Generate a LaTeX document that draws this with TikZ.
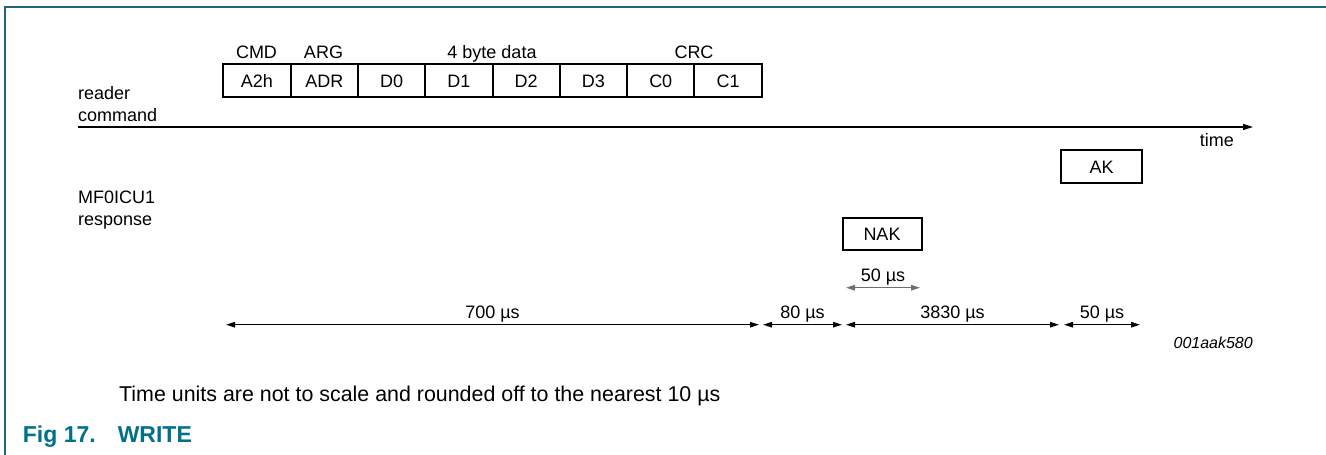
\documentclass[tikz,border=0pt]{standalone}
\usepackage{fontspec}
\setmainfont{Liberation Sans}
\usetikzlibrary{arrows.meta}
\definecolor{frameteal}{RGB}{30,100,125}
\definecolor{figteal}{RGB}{0,112,140}
\definecolor{dimgray}{RGB}{110,110,110}
\begin{document}
\begin{tikzpicture}[x=1pt,y=-1pt,
  lbl/.style={font=\fontsize{18}{22}\selectfont, inner sep=0pt},
  cell/.style={draw, line width=2pt, minimum width=67.3pt, minimum height=33pt, inner sep=0pt, text height=13pt, text depth=0pt, font=\fontsize{18}{22}\selectfont},
  respbox/.style={draw, line width=2pt, inner sep=0pt, text height=13pt, text depth=0pt, font=\fontsize{18}{22}\selectfont},
  dimline/.style={{Triangle[length=9pt,width=5.5pt]}-{Triangle[length=9pt,width=5.5pt]}, line width=1.2pt},
]
\useasboundingbox (0,0) rectangle (1326,455);
% frame
\draw[frameteal, line width=2pt] (5,455) -- (5,7) -- (1326,7);

% side labels
\node[lbl, anchor=base west] (rd) at (78,99) {reader};
\node[lbl, anchor=base west] (cmdl) at (78,121) {command};
\node[lbl, anchor=base west] (mf) at (78,203) {MF0ICU1};
\node[lbl, anchor=base west] (rsp) at (78,225) {response};

% command frame cells
\foreach \t [count=\i] in {A2h,ADR,D0,D1,D2,D3,C0,C1}
  \node[cell] (c\i) at ({223.3+67.3*(\i-0.5)},80.8) {\t};

% group labels
\node[lbl, anchor=base] (gcmd) at (256.5,58) {CMD};
\node[lbl, anchor=base] (garg) at (323.5,58) {ARG};
\node[lbl, anchor=base] (gdat) at (492,58) {4 byte data};
\node[lbl, anchor=base] (gcrc) at (694,58) {CRC};

% time axis
\coordinate (t0) at (78,127);
\coordinate (t1) at (1253,127);
\draw[-{Triangle[length=10pt,width=6pt]}, line width=1.3pt] (t0) -- (t1);
\node[lbl, anchor=base east] (tm) at (1234,146.7) {time};

% responses
\node[respbox, minimum width=79pt, minimum height=32pt] (nak) at (882,233.5) {NAK};
\node[respbox, minimum width=81pt, minimum height=33pt] (ak) at (1101.5,166.5) {AK};

% upper dimension
\coordinate (u0) at (846,287.7);
\coordinate (u1) at (920,287.7);
\draw[dimline, dimgray] (u0) -- (u1);
\node[lbl, anchor=base] (l50a) at (883,281.7) {50 µs};

% lower dimensions
\coordinate (d0) at (226,324.7);
\coordinate (d1) at (759,324.7);
\coordinate (d2) at (763,324.7);
\coordinate (d3) at (842,324.7);
\coordinate (d4) at (846,324.7);
\coordinate (d5) at (1059,324.7);
\coordinate (d6) at (1064,324.7);
\coordinate (d7) at (1140,324.7);
\draw[dimline] (d0) -- (d1);
\draw[dimline] (d2) -- (d3);
\draw[dimline] (d4) -- (d5);
\draw[dimline] (d6) -- (d7);
\node[lbl, anchor=base] (l700) at (492.5,318) {700 µs};
\node[lbl, anchor=base] (l80) at (802.5,318) {80 µs};
\node[lbl, anchor=base] (l3830) at (952.5,318) {3830 µs};
\node[lbl, anchor=base] (l50b) at (1102,318) {50 µs};

% figure id
\node[inner sep=0pt, anchor=base east, font=\fontsize{16}{19}\selectfont\itshape] (fid) at (1253,348) {001aak580};

% footnote and caption
\node[inner sep=0pt, anchor=base west, font=\fontsize{21.4}{25}\selectfont] (note) at (119,401) {Time units are not to scale and rounded off to the nearest 10 µs};
\node[inner sep=0pt, anchor=base west, text=figteal, font=\fontsize{23}{27}\selectfont\bfseries] (cap) at (22.7,442.3) {Fig 17.\hspace{22pt}WRITE};
\end{tikzpicture}
\end{document}
